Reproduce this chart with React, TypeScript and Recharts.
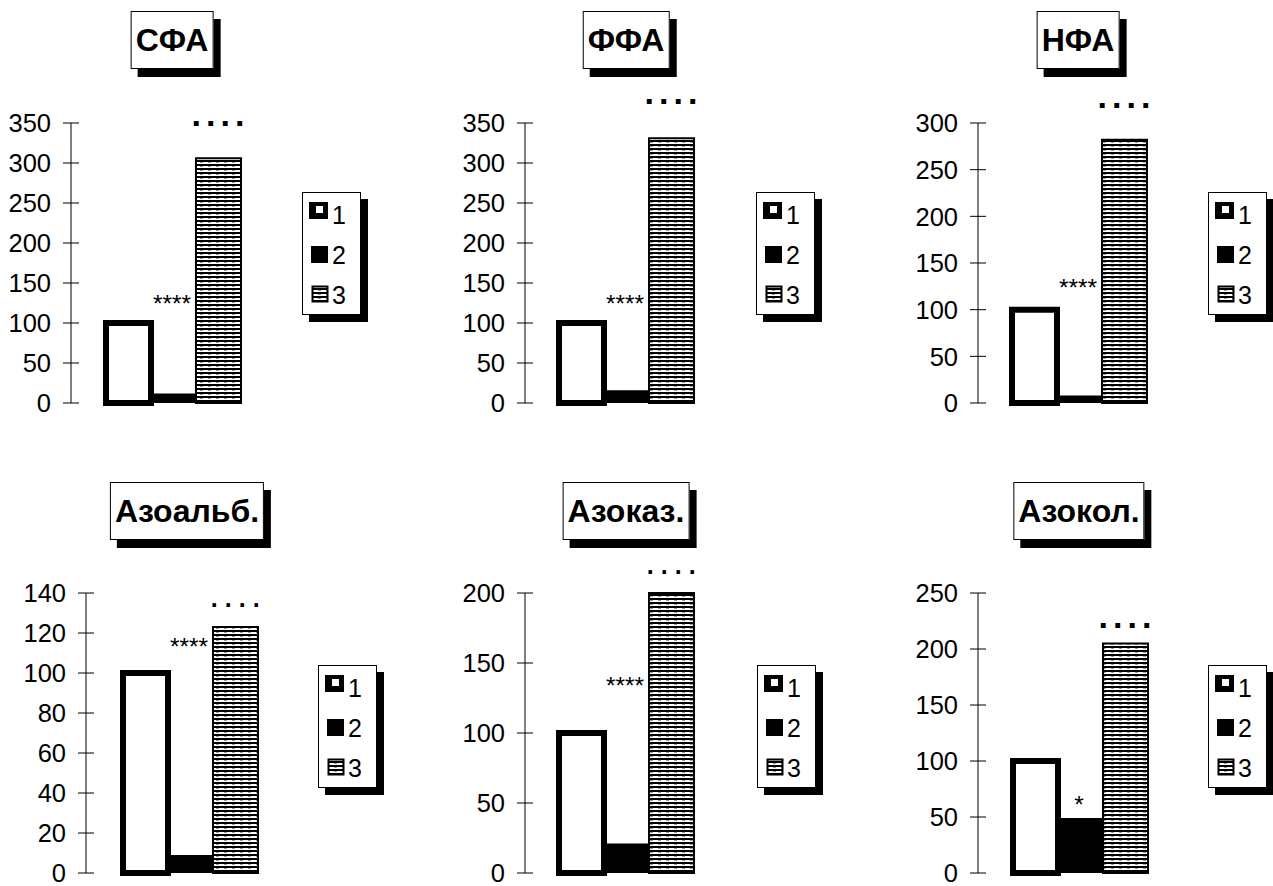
import React from 'react';
import { BarChart, Bar, XAxis, YAxis, Legend, ReferenceDot } from 'recharts';

// ---- data ----
const titles = ['СФА', 'ФФА', 'НФА', 'Азоальб.', 'Азоказ.', 'Азокол.'];
const seriesNames = ['1', '2', '3'];
const group1 = [100, 100, 100, 100, 100, 100];
const group2 = [12, 16, 8, 9, 21, 49];
const group3 = [306, 331, 282, 123, 200, 205];
const yMax = [350, 350, 300, 140, 200, 250];
const yTicks = [
  [0, 50, 100, 150, 200, 250, 300, 350],
  [0, 50, 100, 150, 200, 250, 300, 350],
  [0, 50, 100, 150, 200, 250, 300],
  [0, 20, 40, 60, 80, 100, 120, 140],
  [0, 50, 100, 150, 200],
  [0, 50, 100, 150, 200, 250],
];
const starMarks = ['****', '****', '****', '****', '****', '*'];
const starLevel = [131, 131, 130, 116, 138, 66];
const dotMarks = ['....', '....', '....', '....', '....', '....'];
const dotLevel = [350, 377, 319, 134, 215, 221];

// ---- layout (page pixels) ----
const panels = [
  { left: 0, top: 0, width: 420, height: 420, axisX: 71, center: 173, plotTop: 123, plotBottom: 403, titleX: 172, titleTop: 11, legendX: 302, legendY: 192, bigDots: true },
  { left: 450, top: 0, width: 420, height: 420, axisX: 525, center: 626, plotTop: 123, plotBottom: 403, titleX: 626, titleTop: 11, legendX: 756, legendY: 192, bigDots: true },
  { left: 903, top: 0, width: 370, height: 420, axisX: 978, center: 1079, plotTop: 123, plotBottom: 403, titleX: 1078, titleTop: 11, legendX: 1208, legendY: 192, bigDots: true },
  { left: 0, top: 450, width: 420, height: 436, axisX: 86, center: 190, plotTop: 593, plotBottom: 873, titleX: 187, titleTop: 482, legendX: 318, legendY: 665, bigDots: false },
  { left: 450, top: 450, width: 420, height: 436, axisX: 525, center: 626, plotTop: 593, plotBottom: 873, titleX: 626, titleTop: 482, legendX: 757, legendY: 665, bigDots: false },
  { left: 903, top: 450, width: 370, height: 436, axisX: 978, center: 1080, plotTop: 593, plotBottom: 873, titleX: 1079, titleTop: 482, legendX: 1208, legendY: 665, bigDots: true },
];

const FONT = '"Liberation Sans", Arial, sans-serif';

const YTick = (props: any) => {
  const { x, y, payload } = props;
  return (
    <g>
      <line x1={x + 12} x2={x + 28} y1={y} y2={y} stroke="#000" strokeWidth={1} />
      <text x={x} y={y} dy="0.36em" textAnchor="end" fontSize={25.5} fontFamily={FONT} fill="#000">
        {payload.value}
      </text>
    </g>
  );
};

const LegendBox = () => (
  <svg width={66} height={130} style={{ display: 'block', overflow: 'visible' }}>
    <rect x={7} y={7} width={59} height={123} fill="#000" />
    <rect x={0.5} y={0.5} width={58} height={122} fill="#fff" stroke="#000" />
    <rect x={7} y={10} width={19} height={17} fill="#000" />
    <rect x={14} y={14} width={7} height={7} fill="#fff" />
    <text x={30} y={32} fontSize={25} fontFamily={FONT} fill="#000">{seriesNames[0]}</text>
    <rect x={9} y={54} width={17} height={17} fill="#000" />
    <text x={30} y={72} fontSize={25} fontFamily={FONT} fill="#000">{seriesNames[1]}</text>
    <rect x={10.5} y={94.5} width={15} height={15} fill="url(#hstripe)" stroke="#000" strokeWidth={2} />
    <text x={30} y={112} fontSize={25} fontFamily={FONT} fill="#000">{seriesNames[2]}</text>
  </svg>
);

const Panel = ({ i }: { i: number }) => {
  const p = panels[i];
  const data = [{ name: 'g', s1: group1[i], s2: group2[i], s3: group3[i] }];
  const yW = p.axisX - p.left;
  const plotRight = 2 * p.center - p.axisX;
  const margin = {
    top: p.plotTop - p.top,
    bottom: p.top + p.height - p.plotBottom,
    left: 0,
    right: p.left + p.width - plotRight,
  };
  const starShape = (sp: any) => (
    <text x={sp.cx - 1} y={sp.cy + 14} textAnchor="middle" fontSize={24.5} fontFamily={FONT} fill="#000">
      {starMarks[i]}
    </text>
  );
  const dotShape = (sp: any) =>
    p.bigDots ? (
      <text x={sp.cx + 45 + 2.5} y={sp.cy + 2.5} textAnchor="middle" fontSize={34} fontWeight="bold" letterSpacing={5} fontFamily={FONT} fill="#000">
        {dotMarks[i]}
      </text>
    ) : (
      <text x={sp.cx + 45 + 3.7} y={sp.cy + 1.5} textAnchor="middle" fontSize={25} fontWeight="bold" letterSpacing={7} fontFamily={FONT} fill="#000">
        {dotMarks[i]}
      </text>
    );
  return (
    <div style={{ position: 'absolute', left: p.left, top: p.top }}>
      <BarChart width={p.width} height={p.height} data={data} margin={margin} barGap={0} barSize={45}>
        <XAxis dataKey="name" type="category" hide />
        <YAxis
          type="number"
          domain={[0, yMax[i]]}
          ticks={yTicks[i]}
          interval={0}
          width={yW}
          axisLine={{ stroke: '#000', strokeWidth: 1 }}
          tickLine={false}
          tickSize={8}
          tickMargin={12}
          tick={<YTick />}
        />
        <Legend
          layout="horizontal"
          align="center"
          verticalAlign="middle"
          wrapperStyle={{ left: p.legendX - p.left, top: p.legendY - p.top, width: 66, height: 130 }}
          content={() => <LegendBox />}
        />
        <Bar dataKey="s1" name={seriesNames[0]} fill="#fff" stroke="#000" strokeWidth={6} isAnimationActive={false} />
        <Bar dataKey="s2" name={seriesNames[1]} fill="#000" isAnimationActive={false} />
        <Bar dataKey="s3" name={seriesNames[2]} fill="url(#hstripe)" stroke="#000" strokeWidth={2} isAnimationActive={false} />
        <ReferenceDot x="g" y={starLevel[i]} r={1} ifOverflow="visible" shape={starShape} />
        <ReferenceDot x="g" y={dotLevel[i]} r={1} ifOverflow="visible" shape={dotShape} />
      </BarChart>
    </div>
  );
};

export default function App() {
  return (
    <div style={{ position: 'absolute', left: 0, top: 0, width: 1273, height: 886, overflow: 'hidden', background: '#fff' }}>
      <svg width={0} height={0} style={{ position: 'absolute' }}>
        <defs>
          <pattern id="hstripe" patternUnits="userSpaceOnUse" x={0} y={0} width={8} height={4}>
            <rect x={0} y={0} width={8} height={4} fill="#fff" />
            <rect x={0} y={0} width={8} height={2} fill="#000" />
            <rect x={0} y={2} width={3} height={1} fill="#999" />
          </pattern>
        </defs>
      </svg>
      {panels.map((_, i) => (
        <Panel key={i} i={i} />
      ))}
      {panels.map((p, i) => (
        <div
          key={'t' + i}
          style={{
            position: 'absolute',
            left: p.titleX,
            top: p.titleTop,
            transform: 'translateX(-50%)',
            border: '1px solid #000',
            background: '#fff',
            boxShadow: '7px 8px 0 #000',
            padding: '9px 4px',
            fontFamily: FONT,
            fontWeight: 'bold',
            fontSize: 32,
            lineHeight: '38px',
            whiteSpace: 'nowrap',
            color: '#000',
          }}
        >
          {titles[i]}
        </div>
      ))}
    </div>
  );
}
